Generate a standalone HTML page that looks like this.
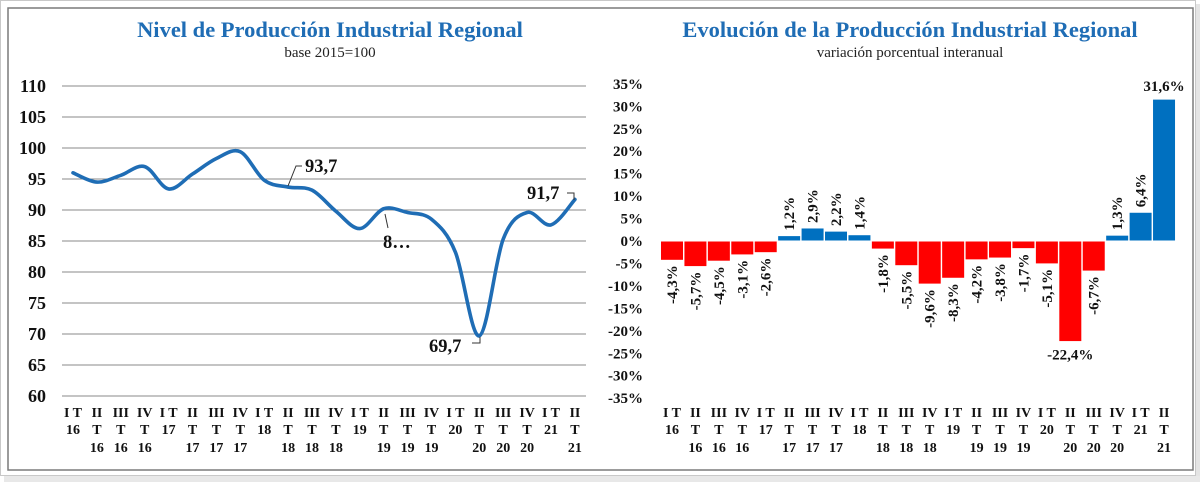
<!DOCTYPE html>
<html><head><meta charset="utf-8"><style>
body{margin:0;background:#fff;width:1200px;height:482px;overflow:hidden}
svg{display:block;font-family:"Liberation Serif",serif}
</style></head><body>
<svg id="s" width="1200" height="482" viewBox="0 0 1200 482" xmlns="http://www.w3.org/2000/svg">
<rect x="0.5" y="0.5" width="1195" height="475" fill="#fff" stroke="#c8c8c8"/>
<rect x="1196" y="4" width="4" height="474" fill="#e4e4e4"/>
<rect x="4" y="476" width="1196" height="6" fill="#e8e8e8"/>
<rect x="8" y="8" width="1185" height="462" fill="#fff" stroke="#7a7a7a" stroke-width="1.5"/>
<text x="330" y="37" text-anchor="middle" font-size="22.5" font-weight="bold" fill="#1f6db5">Nivel de Producción Industrial Regional</text>
<text x="330" y="57" text-anchor="middle" font-size="15" fill="#222">base 2015=100</text>
<text x="910" y="37" text-anchor="middle" font-size="22.5" font-weight="bold" fill="#1f6db5">Evolución de la Producción Industrial Regional</text>
<text x="910" y="57" text-anchor="middle" font-size="15" fill="#222">variación porcentual interanual</text>
<g id="g"></g>
</svg>
<script>
var g=document.getElementById('g'),h='';
function T(x,y,t,o){h+='<text x="'+x+'" y="'+y+'" '+(o||'')+'>'+t+'</text>';}
for(var v=60;v<=110;v+=5){var y=396-(v-60)*6.2;
 h+='<line x1="62" x2="586" y1="'+y+'" y2="'+y+'" stroke="#8a8a8a" stroke-width="1"/>';
 T(46,y+6,v,'text-anchor="end" font-size="18" font-weight="bold" fill="#111"');}
var L=[96,94.5,95.6,97,93.4,95.8,98.3,99.4,94.8,93.7,93.2,89.8,87,90.2,89.6,88.5,83.2,69.7,85.3,89.6,87.6,91.7];
var P=L.map(function(v,i){return [73+23.9*i,396-(v-60)*6.2];});
var d='M'+P[0][0]+','+P[0][1];
for(var i=0;i<P.length-1;i++){var p0=P[Math.max(i-1,0)],p1=P[i],p2=P[i+1],p3=P[Math.min(i+2,P.length-1)];
 d+=' C'+(p1[0]+(p2[0]-p0[0])/6)+','+(p1[1]+(p2[1]-p0[1])/6)+' '+(p2[0]-(p3[0]-p1[0])/6)+','+(p2[1]-(p3[1]-p1[1])/6)+' '+p2[0]+','+p2[1];}
h+='<path d="'+d+'" fill="none" stroke="#1f6db5" stroke-width="3.6" stroke-linecap="round"/>';
var lab='font-size="18.5" font-weight="bold" fill="#111"';
h+='<polyline points="288,186 296,166 302,166" fill="none" stroke="#333"/>';T(305,172,'93,7',lab);
h+='<line x1="385" y1="214" x2="388" y2="228" stroke="#333"/>';T(383,248,'8…',lab);
h+='<polyline points="480,337 480,343 472,343" fill="none" stroke="#333"/>';T(429,352,'69,7',lab);
h+='<polyline points="567,193 574,193 574,200" fill="none" stroke="#333"/>';T(527,199,'91,7',lab);
var C=['I T','II','III','IV','I T','II','III','IV','I T','II','III','IV','I T','II','III','IV','I T','II','III','IV','I T','II'];
var Y=['16','16','16','16','17','17','17','17','18','18','18','18','19','19','19','19','20','20','20','20','21','21'];
function xl(x0,dx){for(var i=0;i<22;i++){var x=x0+dx*i,a='text-anchor="middle" font-size="14" font-weight="bold" fill="#111"';
 T(x,417,C[i],a);
 if(C[i]=='I T'){T(x,434,Y[i],a);}else{T(x,434,'T',a);T(x,452,Y[i],a);}}}
xl(73,23.9);
for(var v=35;v>=-35;v-=5){var y=241-v*4.49;T(643,y+5,v+'%','text-anchor="end" font-size="15" font-weight="bold" fill="#111"');}
var R=[-4.3,-5.7,-4.5,-3.1,-2.6,1.2,2.9,2.2,1.4,-1.8,-5.5,-9.6,-8.3,-4.2,-3.8,-1.7,-5.1,-22.4,-6.7,1.3,6.4,31.6];
R.forEach(function(v,i){var cx=672+23.43*i,y0=241,y1=241-v*4.49,top=Math.min(y0,y1),ht=Math.abs(y1-y0);
 h+='<rect x="'+(cx-11.5)+'" y="'+top+'" width="23" height="'+ht+'" fill="'+(v<0?'#ff0000':'#0070c0')+'" stroke="#fff" stroke-width="1"/>';
 var s=(''+v).replace('.',',')+'%',a='font-size="15" font-weight="bold" fill="#111"';
 if(i==17){T(cx,y1+18,s,'text-anchor="middle" '+a);}
 else if(i==21){T(cx,y1-8,s,'text-anchor="middle" '+a);}
 else if(v<0){h+='<text transform="translate('+(cx+5)+','+(y1+5)+') rotate(-90)" text-anchor="end" '+a+'>'+s+'</text>';}
 else{h+='<text transform="translate('+(cx+5)+','+(y1-5)+') rotate(-90)" text-anchor="start" '+a+'>'+s+'</text>';}
});
xl(672,23.43);
g.innerHTML=h;
</script>
</body></html>
